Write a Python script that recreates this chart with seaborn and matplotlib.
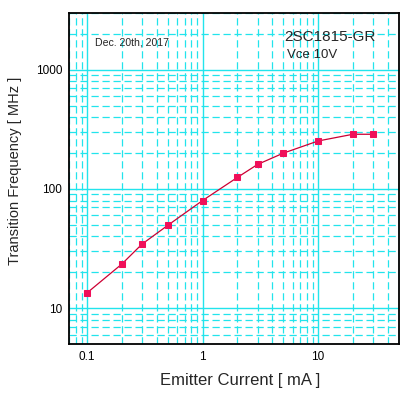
import numpy as np
import pandas as pd
import matplotlib
matplotlib.use("Agg")
import matplotlib.pyplot as plt
import seaborn as sns
from matplotlib.ticker import LogLocator, NullFormatter, FixedLocator, FixedFormatter

### DATA ###
current_ma = [0.1, 0.2, 0.3, 0.5, 1, 2, 3, 5, 10, 20, 30]
ft_mhz = [13.4, 23.4, 34.5, 49.5, 80, 125, 161, 200, 253, 288, 288]
x_ticks = [0.1, 1, 10]
x_tick_labels = ["0.1", "1", "10"]
y_ticks = [10, 100, 1000]
y_tick_labels = ["10", "100", "1000"]

data = pd.DataFrame({"Ie": current_ma, "ft": ft_mhz})

### STYLE ###
sns.set_style("white")
plt.rcParams['font.family'] = ['Liberation Sans', 'DejaVu Sans']

grid_col = "#22e4ec"
line_col = "#cc0033"
mark_col = "#f0105a"

fig = plt.figure(figsize=(4.15, 3.98), dpi=100)
ax = fig.add_axes([0.1663, 0.1357, 0.7951, 0.8316])

sns.lineplot(data=data, x="Ie", y="ft", ax=ax, color=line_col, linewidth=0.9,
             marker="s", markersize=5, markerfacecolor=mark_col,
             markeredgecolor=mark_col, zorder=5)

ax.set_xscale("log")
ax.set_yscale("log")
ax.set_xlim(0.07, 50)
ax.set_ylim(5, 3000)

# major / minor ticks
ax.xaxis.set_major_locator(FixedLocator(x_ticks))
ax.xaxis.set_major_formatter(FixedFormatter(x_tick_labels))
ax.yaxis.set_major_locator(FixedLocator(y_ticks))
ax.yaxis.set_major_formatter(FixedFormatter(y_tick_labels))
ax.xaxis.set_minor_locator(LogLocator(base=10, subs=np.arange(2, 10)))
ax.yaxis.set_minor_locator(LogLocator(base=10, subs=np.arange(2, 10)))
ax.xaxis.set_minor_formatter(NullFormatter())
ax.yaxis.set_minor_formatter(NullFormatter())

ax.grid(which="major", color=grid_col, linestyle="-", linewidth=1.0, zorder=0)
ax.grid(which="minor", color=grid_col, linestyle=(0, (5.8, 3)), linewidth=0.9, zorder=0)
ax.set_axisbelow(True)

ax.tick_params(which="both", length=0, labelsize=8.5, colors="black")
ax.tick_params(axis="x", pad=5)
ax.tick_params(axis="y", pad=5)

for s in ax.spines.values():
    s.set_color("black")
    s.set_linewidth(1.3)

ax.set_xlabel("Emitter Current [ mA ]", fontsize=12, va="center")
ax.set_ylabel("Transition Frequency [ MHz ]", fontsize=10.5, va="center")
ax.xaxis.set_label_coords(0.52, -0.109)
ax.yaxis.set_label_coords(-0.164, 0.524)

# annotations
ax.text(0.117, 1690, "Dec. 20th, 2017", fontsize=7.6, va="center", ha="left")
ax.text(5.05, 1900, "2SC1815-GR", fontsize=11, va="center", ha="left")
ax.text(5.4, 1340, "Vce 10V", fontsize=9.5, va="center", ha="left")

fig.savefig("out.png", dpi=100)
